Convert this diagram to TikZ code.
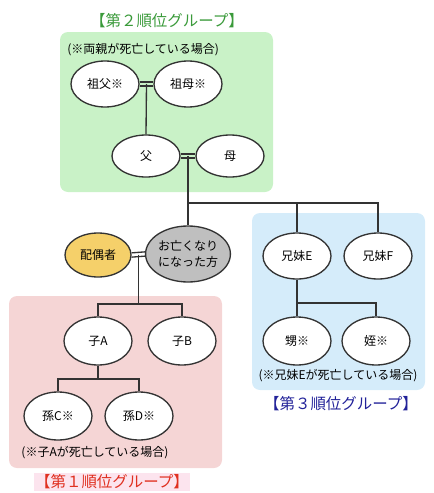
\documentclass[tikz,border=0pt]{standalone}
\usepackage{fontspec}
\setmainfont{Noto Sans CJK JP}
\usetikzlibrary{shapes.geometric,calc}
\definecolor{gbox}{HTML}{C9F2C7}
\definecolor{bbox}{HTML}{D5ECFA}
\definecolor{pbox}{HTML}{F5D5D5}
\definecolor{spfill}{HTML}{F5D06A}
\definecolor{decfill}{HTML}{BFBFBF}
\definecolor{tgreen}{HTML}{3A9A3A}
\definecolor{tblue}{HTML}{222299}
\definecolor{tred}{HTML}{E03020}
\definecolor{tpinkbg}{HTML}{FCE4EE}
\definecolor{edge}{HTML}{333333}
\begin{document}
\begin{tikzpicture}[x=0.75pt,y=-0.75pt,
  person/.style={ellipse,draw=edge,line width=1pt,fill=white,inner sep=0pt,
    minimum width=68*0.75pt,minimum height=46*0.75pt,font=\fontsize{9}{11}\selectfont},
  grp/.style={rounded corners=8*0.75pt,draw=none},
  conn/.style={draw=edge,line width=1pt},
  title/.style={font=\fontsize{11.6}{14}\selectfont,inner sep=1pt},
  note/.style={font=\fontsize{9}{11}\selectfont,inner sep=0pt}]
\useasboundingbox (0,0) rectangle (433,493);
% group boxes
\fill[grp,fill=gbox] (60,32) rectangle (273,192);
\fill[grp,fill=bbox] (252,213) rectangle (425,390);
\fill[grp,fill=pbox] (9,296) rectangle (222,468);
% titles and notes
\node[title,text=tgreen] (t2) at (167,21) {【第２順位グループ】};
\node[title,text=tblue] (t3) at (341,404) {【第３順位グループ】};
\node[title,text=tred,fill=tpinkbg] (t1) at (112,482) {【第１順位グループ】};
\node[note,anchor=west] (n2) at (67,50) {(※両親が死亡している場合)};
\node[note] (n1) at (95,453) {(※子Aが死亡している場合)};
\node[note] (n3) at (338,376) {(※兄妹Eが死亡している場合)};
% persons
\node[person] (gf) at (105,84) {祖父※};
\node[person] (gm) at (188,84) {祖母※};
\node[person,minimum height=42*0.75pt] (fa) at (146,156) {父};
\node[person,minimum height=42*0.75pt] (mo) at (230,156) {母};
\node[person,fill=spfill,minimum width=66*0.75pt,minimum height=44*0.75pt] (sp) at (98,255) {配偶者};
\node[person,fill=decfill,minimum width=82*0.75pt,minimum height=56*0.75pt,align=center,
  font=\fontsize{9}{12}\selectfont] (dec) at (188,254) {お亡くなり\\になった方};
\node[person] (se) at (297,256) {兄妹E};
\node[person] (sf) at (378,256) {兄妹F};
\node[person,minimum height=48*0.75pt] (ca) at (98,341) {子A};
\node[person,minimum height=48*0.75pt] (cb) at (182,341) {子B};
\node[person,minimum height=48*0.75pt] (gc) at (58,416) {孫C※};
\node[person,minimum height=48*0.75pt] (gd) at (139,416) {孫D※};
\node[person,minimum height=48*0.75pt] (ne) at (297,341) {甥※};
\node[person,minimum height=48*0.75pt] (ni) at (376,341) {姪※};
% marriage lines (double)
\foreach \a/\b in {gf/gm,fa/mo,sp/dec}{
  \draw[conn] ([yshift=1.6pt]\a.east) -- ([yshift=1.6pt]\b.west);
  \draw[conn] ([yshift=-1.6pt]\a.east) -- ([yshift=-1.6pt]\b.west);
}
\coordinate (j0) at ($(gf.east)!0.5!(gm.west)$);
\coordinate (j1) at ($(fa.east)!0.5!(mo.west)$);
\coordinate (j2) at ($(sp.east)!0.5!(dec.west)$);
\coordinate (bus0) at (0,203);
\coordinate (bus1) at (0,304);
\coordinate (bus2) at (0,303);
\coordinate (bus3) at (0,379);
% grandparents -> father
\draw[conn] (j0) -- (fa.north);
% parents -> deceased and siblings
\draw[conn] (j1) -- (dec.north);
\draw[conn] (j1 |- bus0) -- (sf.north |- bus0) -- (sf.north);
\draw[conn] (se.north |- bus0) -- (se.north);
% deceased -> children
\draw[conn] (j2) -- (j2 |- bus1);
\draw[conn] (ca.north) -- (ca.north |- bus1) -- (cb.north |- bus1) -- (cb.north);
% child A -> grandchildren
\draw[conn] (ca.south) -- (ca.south |- bus3);
\draw[conn] (gc.north) -- (gc.north |- bus3) -- (gd.north |- bus3) -- (gd.north);
% sibling E -> nephew/niece
\draw[conn] (se.south) -- (se.south |- bus2);
\draw[conn] (ne.north) -- (ne.north |- bus2) -- (ni.north |- bus2) -- (ni.north);
\end{tikzpicture}
\end{document}
